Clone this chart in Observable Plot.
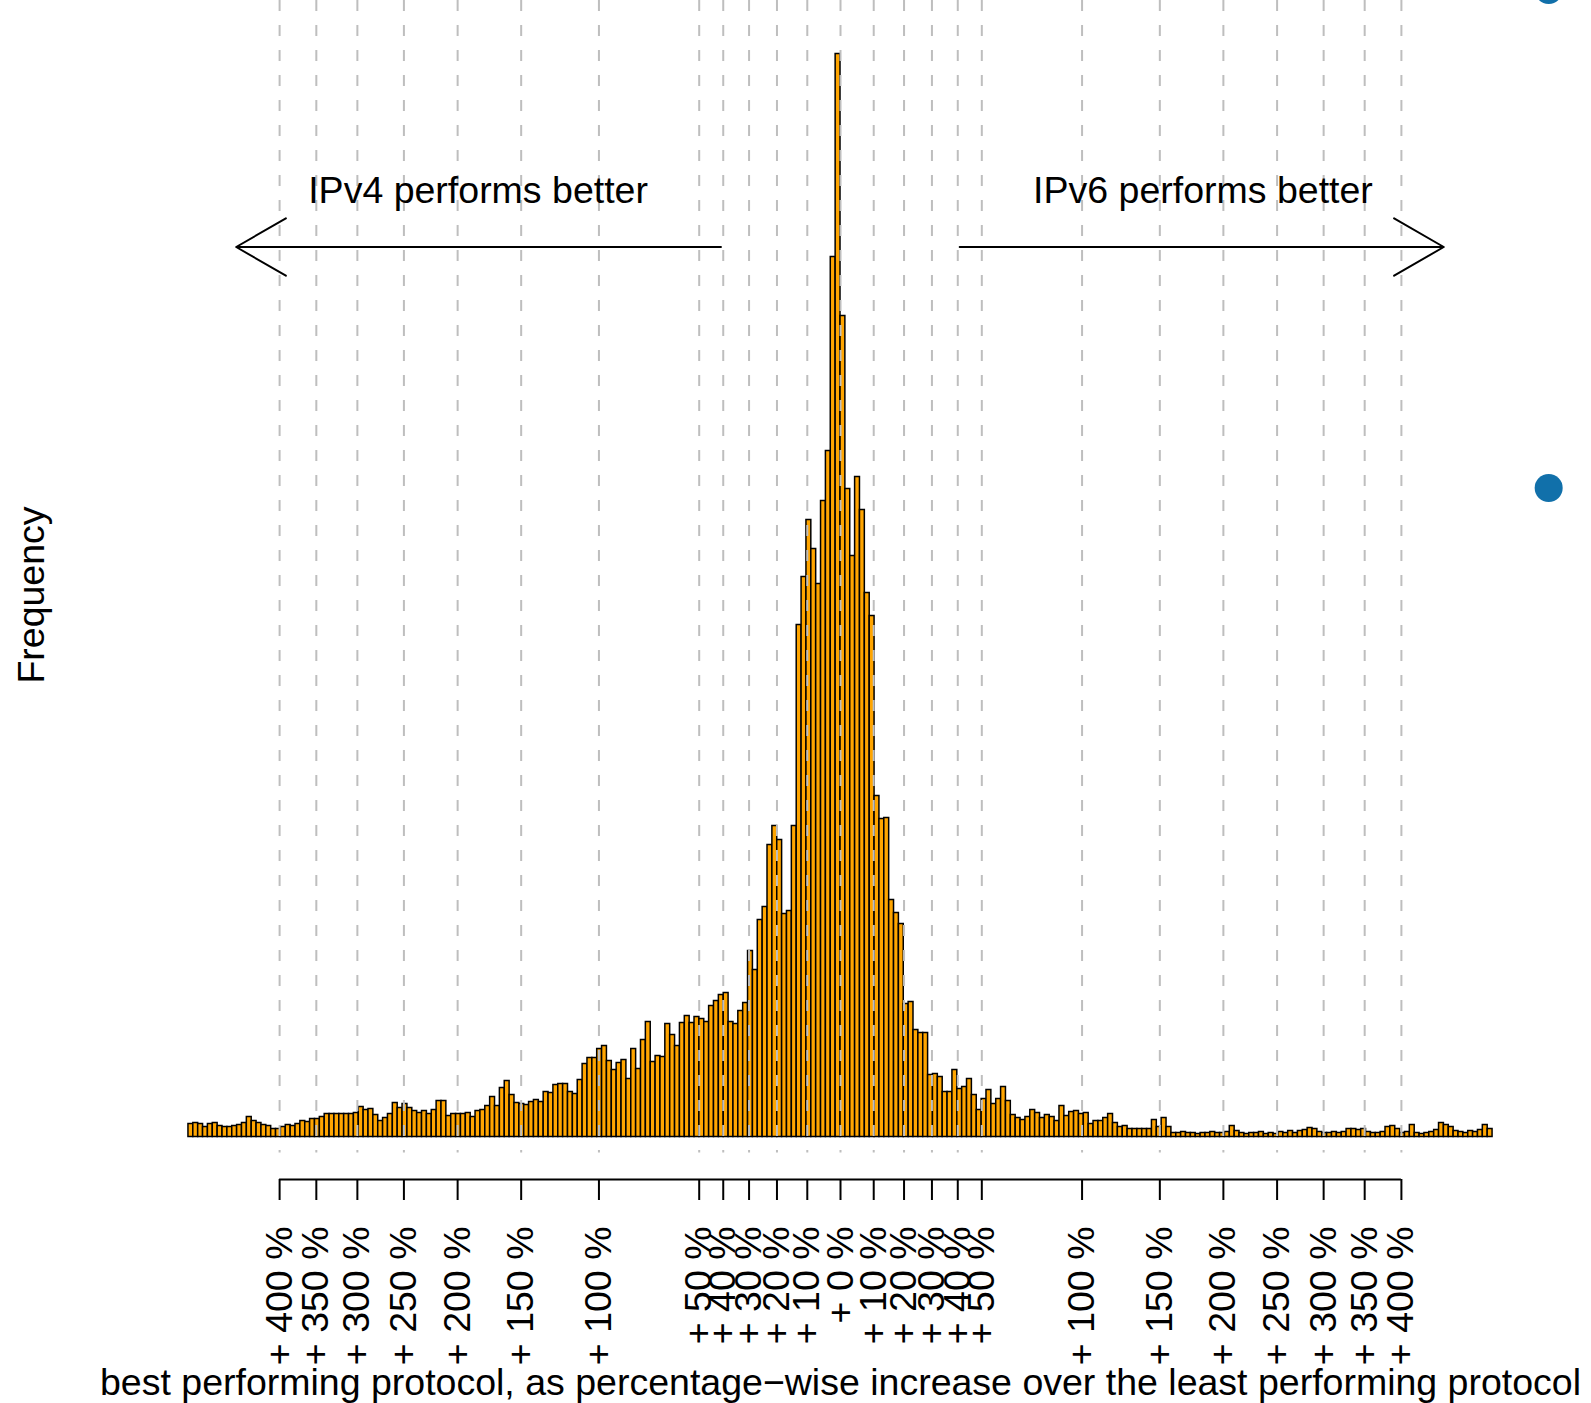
<!DOCTYPE html>
<html><head><meta charset="utf-8">
<script src="https://cdn.jsdelivr.net/npm/d3@7"></script>
<script src="https://cdn.jsdelivr.net/npm/@observablehq/plot@0.6"></script>
<style>html,body{margin:0;padding:0;background:#fff}</style>
</head><body><div id="chart"></div>
<script>
// Histogram of signed log(1 + gain) : negative = IPv4 better, positive = IPv6 better
const counts = [
13,14,13,10,13,14,11,10,10,11,12,14,20,16,14,12,11,8,8,10,12,11,13,16,15,18,18,20,23,23,23,23,23,23,24,
30,27,
28,22,16,19,23,34,29,33,29,26,24,26,23,27,36,36,21,23,23,23,24,20,26,27,31,40,31,49,56,42,34,33,32,35,37,35,45,44,52,
53,53,45,43,57,73,79,79,88,91,76,67,74,77,58,88,68,97,115,75,81,80,113,102,91,114,121,114,120,118,115,131,136,142,144,115,113,126,134,
186,167,217,230,292,311,297,223,226,311,
512,560,617,588,553,636,686,880,1083,
821,648,581,660,627,544,521,341,318,319,237,224,213,133,135,107,104,104,62,63,60,45,45,67,48,
50,58,42,27,38,47,33,38,50,36,22,19,17,20,27,24,19,22,20,16,31,21,25,26,23,24,13,16,16,19,23,14,10,11,8,8,8,
8,8,17,10,19,10,4,4,5,4,4,3,4,4,5,4,4,5,11,6,4,3,4,4,5,3,4,3,5,4,6,4,6,7,9,8,5,4,4,5,4,5,8,8,7,8,5,4,4,5,10,11,8,4,5,12,4,3,4,5,7,14,12,10,6,5,4,6,5,7,12,8
];
const binMin = -1.871, binMax = 1.871;

const tickPercents = [400,350,300,250,200,150,100,50,40,30,20,10,0,10,20,30,40,50,100,150,200,250,300,350,400];
const tickSides    = [-1,-1,-1,-1,-1,-1,-1,-1,-1,-1,-1,-1,0,1,1,1,1,1,1,1,1,1,1,1,1];
const tickLabels   = tickPercents.map(p => `+ ${p} %`);

const sideLabels = ["IPv4 performs better", "IPv6 performs better"];
const sideLabelX = [-1.04, 1.04];
const sideLabelY = 946;
const arrowFrom = [-0.343, 0.342];
const arrowTo   = [-1.734, 1.731];
const arrowY = 890;

const markerX = [2.032, 2.032];
const markerY = [1147, 649];

const xTitle = "best performing protocol, as percentage\u2212wise increase over the least performing protocol";
const yTitle = "Frequency";

// build tables
const w = (binMax - binMin) / counts.length;
const bins = counts.map((c, i) => ({x1: binMin + i * w, x2: binMin + (i + 1) * w, c}));
const tickValues = tickPercents.map((p, i) => tickSides[i] * Math.log(1 + p / 100));
const labelOf = new Map(tickValues.map((v, i) => [v, tickLabels[i]]));
const sides = sideLabels.map((t, i) => ({t, x: sideLabelX[i], y: sideLabelY}));
const arrows = arrowFrom.map((x1, i) => ({x1, x2: arrowTo[i], y: arrowY}));
const markers = markerX.map((x, i) => ({x, y: markerY[i]}));

const font = "'Liberation Sans', Arial, Helvetica, sans-serif";

const chart = Plot.plot({
  width: 1591,
  height: 1403,
  marginLeft: 0, marginRight: 0, marginTop: 0, marginBottom: 224,
  x: {domain: [-2.4103, 2.1549]},
  y: {domain: [0, 1083.7], range: [1136.5, 52.8], axis: null},
  style: {fontFamily: font, fontSize: "37.5px", background: "#fff", color: "black"},
  marks: [
    Plot.rectY(bins, {x1: "x1", x2: "x2", y: "c", fill: "#FFA500", stroke: "black", strokeWidth: 1.5}),
    Plot.ruleX(tickValues, {stroke: "#bebebe", strokeWidth: 2, strokeDasharray: "11,14", insetBottom: 26.5}),
    Plot.arrow(arrows, {x1: "x1", x2: "x2", y1: "y", y2: "y", stroke: "black", strokeWidth: 2, headLength: 43, headAngle: 60}),
    Plot.text(sides, {x: "x", y: "y", text: "t", fontSize: 37.5, fill: "black"}),
    Plot.ruleY([0], {x1: tickValues[0], x2: tickValues[tickValues.length - 1], dy: 42.5, stroke: "black", strokeWidth: 2}),
    Plot.axisX(tickValues, {anchor: "bottom", tickSize: 21, tickPadding: 26, tickRotate: -90, strokeWidth: 2,
      tickFormat: d => labelOf.get(d), fontSize: 37.5, label: null, fill: "black"}),
    Plot.text([yTitle], {frameAnchor: "left", textAnchor: "middle", dx: 31, dy: 5, rotate: -90, fontSize: 37.5, fill: "black"}),
    Plot.text([xTitle], {x: () => 0, frameAnchor: "bottom", dy: 215, fontSize: 37.5, fill: "black"}),
    Plot.dot(markers, {x: "x", y: "y", r: 14, fill: "#1170aa", stroke: null})
  ]
});
document.getElementById("chart").appendChild(chart);
</script>
</body></html>
